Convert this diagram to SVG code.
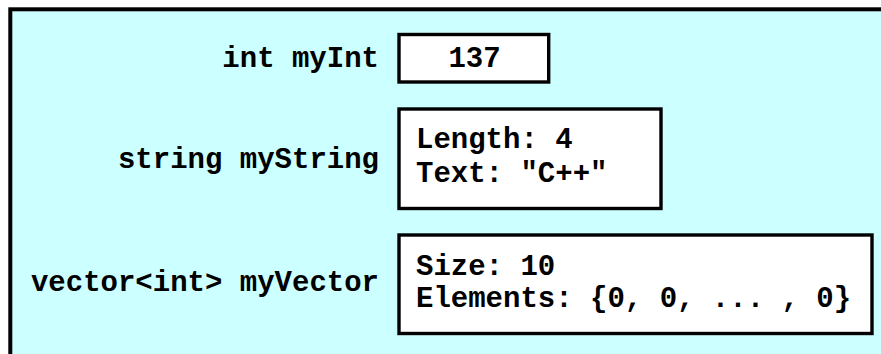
<svg xmlns="http://www.w3.org/2000/svg" width="881" height="354" viewBox="0 0 881 354">
<style>
.t{font-family:"Liberation Mono","Courier New",monospace;font-weight:bold;font-size:29px;fill:#000}
.lbl{text-anchor:end}
.box{fill:#fff;stroke:#000;stroke-width:3.4}
</style>
<rect x="10.3" y="9.3" width="900" height="400" fill="#ccffff" stroke="#000" stroke-width="4"/>
<g id="node-int">
<text class="t lbl" x="379" y="67">int myInt</text>
<rect class="box" x="399" y="34.5" width="149.7" height="47.5"/>
<text class="t" x="474.5" y="67" text-anchor="middle">137</text>
</g>
<g id="node-string">
<text class="t lbl" x="379" y="168">string myString</text>
<rect class="box" x="399" y="109" width="262" height="99.5"/>
<text class="t" x="416" y="148">Length: 4</text>
<text class="t" x="416" y="182">Text: "C++"</text>
</g>
<g id="node-vector">
<text class="t lbl" x="379" y="291">vector&lt;int&gt; myVector</text>
<rect class="box" x="399" y="235" width="473" height="98.5"/>
<text class="t" x="416" y="275">Size: 10</text>
<text class="t" x="416" y="307">Elements: {0, 0, ... , 0}</text>
</g>
<g id="connectors"></g>
</svg>
